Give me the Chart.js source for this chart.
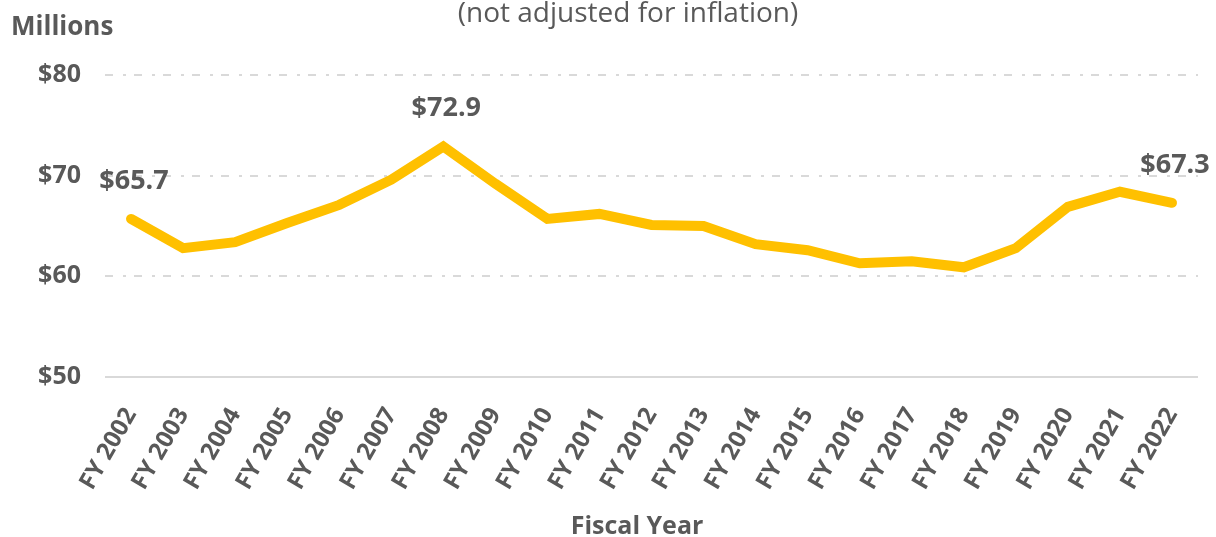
<!DOCTYPE html>
<html>
<head>
<meta charset="utf-8">
<script src="https://cdn.jsdelivr.net/npm/chart.js@4.4.0/dist/chart.umd.min.js"></script>
<style>
  html, body { margin: 0; padding: 0; background: #ffffff; }
  #wrap { width: 1216px; height: 537px; }
</style>
</head>
<body>
<div id="wrap"><canvas id="myChart" width="1216" height="537"></canvas></div>
<script>
// data
var years = ['FY 2002', 'FY 2003', 'FY 2004', 'FY 2005', 'FY 2006', 'FY 2007', 'FY 2008',
  'FY 2009', 'FY 2010', 'FY 2011', 'FY 2012', 'FY 2013', 'FY 2014', 'FY 2015',
  'FY 2016', 'FY 2017', 'FY 2018', 'FY 2019', 'FY 2020', 'FY 2021', 'FY 2022'];
var funding = [65.7, 62.8, 63.4, 65.3, 67.1, 69.6, 72.9, 69.2, 65.7, 66.2, 65.1,
  65.0, 63.2, 62.6, 61.3, 61.5, 60.9, 62.8, 66.9, 68.4, 67.3];
var labelled = [0, 6, 20]; // points with a value label
var yTicks = [50, 60, 70, 80];

var grey = '#595959';
var fontFam = "'Open Sans', 'DejaVu Sans', sans-serif";

// extra texts: subtitle, "Millions", axis title, value labels
var textPlugin = {
  id: 'extraTexts',
  afterDatasetsDraw: function(chart) {
    var ctx = chart.ctx;
    var meta = chart.getDatasetMeta(0);
    ctx.save();
    ctx.fillStyle = grey;
    ctx.textBaseline = 'middle';

    ctx.font = 'normal 28px ' + fontFam;
    ctx.textAlign = 'center';
    ctx.fillText('(not adjusted for inflation)', 628, 14);

    ctx.font = 'bold 26px ' + fontFam;
    ctx.textAlign = 'left';
    ctx.fillText('Millions', 11, 28);

    ctx.font = 'bold 25px ' + fontFam;
    ctx.textAlign = 'center';
    ctx.fillText('Fiscal Year', 637, 527);

    ctx.font = 'bold 27px ' + fontFam;
    labelled.forEach(function(i) {
      var pt = meta.data[i];
      ctx.fillText('$' + funding[i].toFixed(1), pt.x + 3, pt.y - 38);
    });
    ctx.restore();
  }
};

var config = {
  type: 'line',
  data: {
    labels: years,
    datasets: [{
      data: funding,
      borderColor: '#FFC000',
      borderWidth: 10,
      borderCapStyle: 'round',
      borderJoinStyle: 'miter',
      pointRadius: 0,
      pointHoverRadius: 0,
      fill: false,
      tension: 0
    }]
  },
  options: {
    responsive: false,
    animation: false,
    layout: { padding: { left: 0, right: 18, top: 75, bottom: 0 } },
    plugins: {
      legend: { display: false },
      tooltip: { enabled: false }
    },
    scales: {
      x: {
        offset: true,
        grid: { display: false, drawTicks: false },
        border: { display: false },
        ticks: {
          color: grey,
          font: { family: fontFam, size: 24, weight: 'bold' },
          minRotation: 60,
          maxRotation: 60,
          padding: 26,
          autoSkip: false
        },
        afterFit: function(scale) {
          scale.height = 160;
          scale.paddingLeft = 0;
          scale.paddingRight = 0;
        }
      },
      y: {
        min: 50,
        max: 80,
        afterBuildTicks: function(scale) {
          scale.ticks = yTicks.map(function(v) { return { value: v }; });
        },
        grid: {
          color: '#d9d9d9',
          lineWidth: 2,
          drawTicks: false
        },
        border: {
          display: false,
          dash: function(c) {
            return (c.tick && c.tick.value === 50) ? [] : [8, 10, 3, 8];
          }
        },
        ticks: {
          color: grey,
          font: { family: fontFam, size: 25, weight: 'bold' },
          padding: 24,
          callback: function(v) { return '$' + v; }
        },
        afterFit: function(scale) { scale.width = 105; }
      }
    }
  },
  plugins: [textPlugin]
};

var ctx = document.getElementById('myChart').getContext('2d');
var myChart = new Chart(ctx, config);
</script>
</body>
</html>
